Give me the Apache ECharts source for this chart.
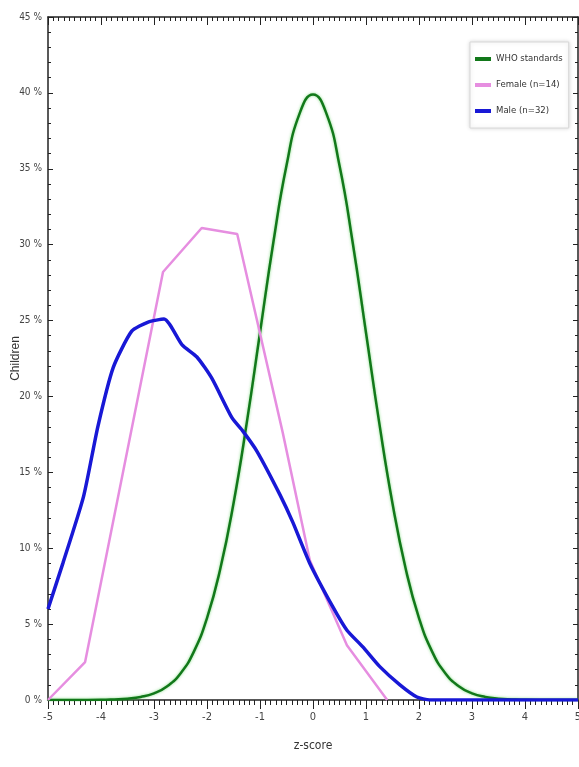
<!DOCTYPE html>
<html>
<head>
<meta charset="utf-8">
<script src="https://cdn.jsdelivr.net/npm/echarts@6/dist/echarts.min.js"></script>
<style>
html, body { margin: 0; padding: 0; background: #fff; }
#chart { width: 579px; height: 767px; }
</style>
</head>
<body>
<div id="chart"></div>
<script>
// series names
const seriesNames = ['WHO standards', 'Female (n=14)', 'Male (n=32)'];

// WHO standards curve
const whoZ = [-5, -4.5, -4, -3.75, -3.5, -3.25, -3, -2.75, -2.5, -2.25, -2, -1.75, -1.5, -1.25, -1, -0.75, -0.5, -0.25, 0,
    0.25, 0.5, 0.75, 1, 1.25, 1.5, 1.75, 2, 2.25, 2.5, 2.75, 3, 3.25, 3.5, 3.75, 4, 4.5, 5];
const whoPct = [0, 0, 0.01, 0.04, 0.09, 0.2, 0.44, 0.91, 1.75, 3.17, 5.4, 8.63, 12.95, 18.26, 24.2, 30.11, 35.21, 38.67, 39.89,
    38.67, 35.21, 30.11, 24.2, 18.26, 12.95, 8.63, 5.4, 3.17, 1.75, 0.91, 0.44, 0.2, 0.09, 0.04, 0.01, 0, 0];

// Female
const femaleZ = [-5, -4.3, -2.83, -2.1, -1.43, -0.57, -0.06, 0.64, 1.4];
const femalePct = [0, 2.5, 28.2, 31.1, 30.7, 17.6, 9.2, 3.6, 0];

// Male
const maleZ = [-5, -4.72, -4.33, -4.06, -3.77, -3.42, -3.11, -2.81, -2.47, -2.19, -1.91, -1.53, -1.32, -1.06, -0.62, -0.38,
    -0.06, 0.38, 0.64, 0.94, 1.26, 1.64, 1.96, 2.2, 5];
const malePct = [6.0, 9.0, 13.4, 18.0, 21.9, 24.3, 24.9, 25.1, 23.4, 22.6, 21.2, 18.6, 17.7, 16.4, 13.5, 11.7,
    9.0, 6.1, 4.6, 3.5, 2.2, 1.0, 0.2, 0, 0];

// axis ticks
const xMin = -5, xMax = 5, xStep = 1;
const yMin = 0, yMax = 45, yStep = 5;

function zip(a, b) {
    return a.map(function (v, i) { return [v, b[i]]; });
}

const narrow = "'DejaVu Sans Condensed', 'Liberation Sans', sans-serif";
const axisColor = '#222';

var myChart = echarts.init(document.getElementById('chart'));
myChart.setOption({
    backgroundColor: '#fff',
    animation: false,
    grid: { left: 48, right: 1, top: 17, bottom: 67, containLabel: false, outerBoundsMode: 'none' },
    legend: {
        orient: 'vertical',
        left: 470,
        top: 42,
        data: seriesNames,
        icon: 'rect',
        itemWidth: 16,
        itemHeight: 4,
        itemGap: 14,
        padding: [11, 6, 11, 5],
        backgroundColor: '#fff',
        borderColor: '#d8d8d8',
        borderWidth: 1,
        shadowBlur: 4,
        shadowColor: 'rgba(0,0,0,0.15)',
        textStyle: { fontFamily: narrow, fontSize: 9.5, color: '#333', lineHeight: 12 }
    },
    xAxis: [{
        type: 'value',
        min: xMin, max: xMax, interval: xStep,
        name: 'z-score',
        nameLocation: 'middle',
        nameGap: 40,
        nameMoveOverlap: false,
        nameTextStyle: { fontFamily: narrow, fontSize: 12, color: '#333' },
        axisLine: { onZero: false, lineStyle: { color: axisColor, width: 1.5 } },
        axisTick: { length: 9, lineStyle: { color: axisColor } },
        minorTick: { show: true, splitNumber: 10, length: 5, lineStyle: { color: axisColor } },
        axisLabel: { margin: 12, fontFamily: narrow, fontSize: 11, color: '#444' },
        splitLine: { show: false }
    }, {
        type: 'value',
        position: 'top',
        min: xMin, max: xMax, interval: xStep,
        axisLine: { onZero: false, lineStyle: { color: axisColor, width: 1.5 } },
        axisTick: { inside: true, length: 8, lineStyle: { color: axisColor } },
        minorTick: { show: true, splitNumber: 10, length: 4, lineStyle: { color: axisColor } },
        axisLabel: { show: false },
        splitLine: { show: false }
    }],
    yAxis: [{
        type: 'value',
        min: yMin, max: yMax, interval: yStep,
        name: 'Children',
        nameLocation: 'middle',
        nameGap: 26,
        nameMoveOverlap: false,
        nameRotate: 90,
        nameTextStyle: { fontFamily: 'Liberation Sans, sans-serif', fontSize: 12, color: '#333' },
        axisLine: { onZero: false, lineStyle: { color: axisColor, width: 1.5 } },
        axisTick: { inside: true, length: 5, lineStyle: { color: axisColor } },
        minorTick: { show: true, splitNumber: 5, length: 3, lineStyle: { color: axisColor } },
        axisLabel: { margin: 6, fontFamily: narrow, fontSize: 10, color: '#444', formatter: '{value} %' },
        splitLine: { show: false }
    }, {
        type: 'value',
        position: 'right',
        min: yMin, max: yMax, interval: yStep,
        axisLine: { onZero: false, lineStyle: { color: axisColor, width: 1.5 } },
        axisTick: { inside: true, length: 5, lineStyle: { color: axisColor } },
        minorTick: { show: true, splitNumber: 5, length: 3, lineStyle: { color: axisColor } },
        axisLabel: { show: false },
        splitLine: { show: false }
    }],
    series: [{
        name: seriesNames[0],
        type: 'line',
        smooth: true,
        showSymbol: false,
        color: '#12781a',
        lineStyle: { width: 2.5, color: '#12781a', shadowBlur: 3, shadowColor: 'rgba(60,200,60,0.6)' },
        data: zip(whoZ, whoPct)
    }, {
        name: seriesNames[1],
        type: 'line',
        showSymbol: false,
        color: '#e68ee0',
        lineStyle: { width: 2.5, color: '#e68ee0' },
        data: zip(femaleZ, femalePct)
    }, {
        name: seriesNames[2],
        type: 'line',
        smooth: 0.2,
        showSymbol: false,
        color: '#1818d6',
        lineStyle: { width: 3.5, color: '#1818d6' },
        data: zip(maleZ, malePct)
    }]
});
</script>
</body>
</html>
